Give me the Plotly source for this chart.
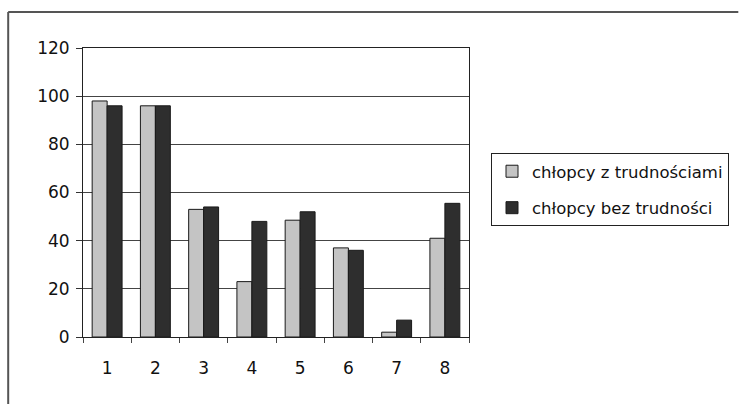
import plotly.graph_objects as go

categories = ["1", "2", "3", "4", "5", "6", "7", "8"]
z_trudnosciami = [98, 96, 53, 23, 48.5, 37, 2, 41]
bez_trudnosci = [96, 96, 54, 48, 52, 36, 7, 55.5]
series_names = ["chłopcy z trudnościami", "chłopcy bez trudności"]
y_ticks = [0, 20, 40, 60, 80, 100, 120]

fig = go.Figure()
fig.add_trace(go.Bar(x=categories, y=z_trudnosciami, name=series_names[0],
                     legendgroup="a",
                     marker=dict(color="#c4c4c4", line=dict(color="#1a1a1a", width=1))))
fig.add_trace(go.Bar(x=categories, y=bez_trudnosci, name=series_names[1],
                     legendgroup="b",
                     marker=dict(color="#2e2e2e", line=dict(color="#1a1a1a", width=1))))

L, R, T, B = 83, 470, 48, 337
W, H = 740, 404

def px(x):
    return (x - L) / (R - L)

def py(y):
    return (B - y) / (B - T)

fig.update_layout(
    width=W, height=H,
    margin=dict(l=L, r=W - R, t=T, b=H - B),
    paper_bgcolor="white", plot_bgcolor="white",
    barmode="group", bargap=0.38, bargroupgap=0,
    font=dict(family="DejaVu Sans, sans-serif", color="#111", size=14),
    showlegend=True,
    legend=dict(x=px(491), y=py(153), xanchor="left", yanchor="top",
                bordercolor="#222", borderwidth=1, bgcolor="white",
                font=dict(size=16.5, color="#111"), tracegroupgap=12,
                traceorder="grouped", itemwidth=30),
    shapes=[
        dict(type="line", xref="paper", yref="paper", x0=px(8), x1=px(740),
             y0=py(12), y1=py(12), line=dict(color="#555", width=2)),
        dict(type="line", xref="paper", yref="paper", x0=px(8), x1=px(8),
             y0=py(12), y1=py(404), line=dict(color="#555", width=2)),
    ],
)
fig.update_xaxes(type="category", showline=True, linecolor="#222", linewidth=1,
                 mirror=True, ticks="outside", tickson="boundaries", ticklen=5,
                 tickcolor="#444", showgrid=False, ticklabelstandoff=16,
                 tickfont=dict(size=17))
fig.update_yaxes(range=[0, 120], tickvals=y_ticks, showline=True, linecolor="#222",
                 linewidth=1, mirror=True, ticks="outside", ticklen=6, tickcolor="#333",
                 showgrid=True, gridcolor="#444", gridwidth=1, zeroline=False,
                 tickfont=dict(size=17), ticklabelstandoff=3)

fig.write_html("out.html")
